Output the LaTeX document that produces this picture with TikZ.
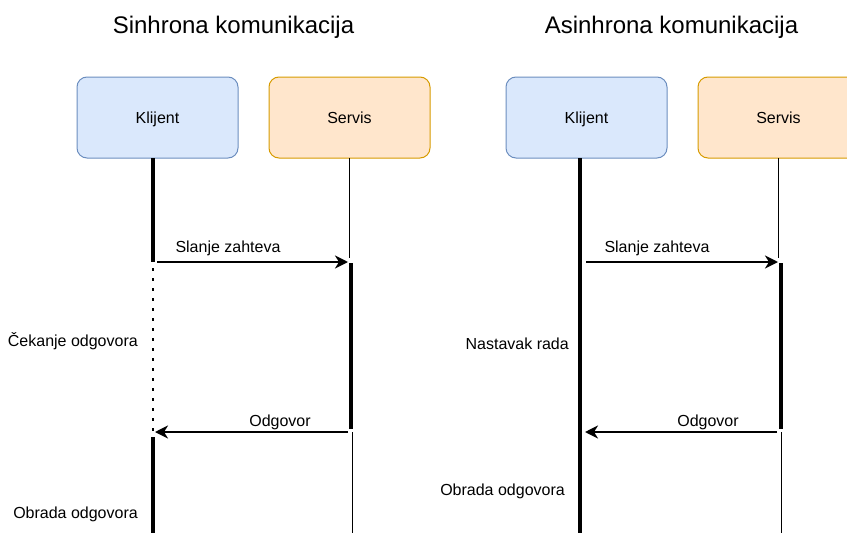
\documentclass[tikz,border=0pt]{standalone}
\usepackage{fontspec}
\setmainfont{Liberation Sans}
\usetikzlibrary{arrows.meta}
\definecolor{cfill}{HTML}{DAE8FC}
\definecolor{cdraw}{HTML}{6C8EBF}
\definecolor{sfill}{HTML}{FFE6CC}
\definecolor{sdraw}{HTML}{D79B00}
\begin{document}
\begin{tikzpicture}[x=1pt,y=-1pt,
  box/.style={rounded corners=10pt, line width=1pt, minimum width=161pt, minimum height=81pt, font=\fontsize{16}{19}\selectfont, inner sep=0pt, text height=11.5pt, text depth=0pt},
  cbox/.style={box, fill=cfill, draw=cdraw},
  sbox/.style={box, fill=sfill, draw=sdraw},
  life/.style={line width=1pt},
  act/.style={line width=4pt},
  waitline/.style={line width=2.5pt, dash pattern=on 2.5pt off 7.5pt},
  msg/.style={line width=2.2pt, -{Stealth[length=13pt,width=13pt,inset=4pt]}},
  lbl/.style={font=\fontsize{16}{19}\selectfont, inner sep=0pt},
  ttl/.style={font=\fontsize{24}{29}\selectfont, inner sep=0pt, anchor=base}]
\useasboundingbox (0,0) rectangle (847,533);
\clip (0,0) rectangle (847,533);

% titles
\node[ttl] (t1) at (233.5,33) {Sinhrona komunikacija};
\node[ttl] (t2) at (671.5,33) {Asinhrona komunikacija};

% boxes
\node[cbox] (k1) at (157.5,117.5) {Klijent};
\node[sbox] (s1) at (349.5,117.5) {Servis};
\node[cbox] (k2) at (586.5,117.5) {Klijent};
\node[sbox] (s2) at (778.5,117.5) {Servis};

% ---- left (synchronous) ----
\coordinate (k1a) at (153,158);
\coordinate (k1b) at (153,262);
\coordinate (k1w1) at (153,268);
\coordinate (k1w2) at (153,432);
\coordinate (k1c) at (153,437);
\coordinate (k1d) at (153,533);
\draw[act] (k1a) -- (k1b);
\draw[waitline] (k1w1) -- (k1w2);
\draw[act] (k1c) -- (k1d);

\coordinate (s1a) at (349,158);
\coordinate (s1b) at (349,258);
\coordinate (s1c) at (351,263);
\coordinate (s1d) at (351,429);
\coordinate (s1e) at (352,432);
\coordinate (s1f) at (352,533);
\draw[life] (s1a) -- (s1b);
\draw[act] (s1c) -- (s1d);
\draw[life] (s1e) -- (s1f);

\coordinate (r1from) at (157,262);
\coordinate (r1to) at (348,262);
\coordinate (a1from) at (348,432);
\coordinate (a1to) at (155,432);
\draw[msg] (r1from) -- (r1to);
\draw[msg] (a1from) -- (a1to);
\node[lbl, anchor=base] (lr1) at (228,252) {Slanje zahteva};
\node[lbl, anchor=base] (la1) at (280,426) {Odgovor};
\node[lbl, anchor=base east] (lw1) at (138,346) {Čekanje odgovora};
\node[lbl, anchor=base east] (lp1) at (138,518) {Obrada odgovora};

% ---- right (asynchronous) ----
\coordinate (k2a) at (580,158);
\coordinate (k2d) at (580,533);
\draw[act] (k2a) -- (k2d);

\coordinate (s2a) at (778,158);
\coordinate (s2b) at (778,258);
\coordinate (s2c) at (781,263);
\coordinate (s2d) at (781,429);
\coordinate (s2e) at (781,432);
\coordinate (s2f) at (781,533);
\draw[life] (s2a) -- (s2b);
\draw[act] (s2c) -- (s2d);
\draw[life] (s2e) -- (s2f);

\coordinate (r2from) at (586,262);
\coordinate (r2to) at (778,262);
\coordinate (a2from) at (777,432);
\coordinate (a2to) at (585,432);
\draw[msg] (r2from) -- (r2to);
\draw[msg] (a2from) -- (a2to);
\node[lbl, anchor=base] (lr2) at (657,252) {Slanje zahteva};
\node[lbl, anchor=base] (la2) at (708,426) {Odgovor};
\node[lbl, anchor=base east] (lw2) at (569,349) {Nastavak rada};
\node[lbl, anchor=base east] (lp2) at (565,495) {Obrada odgovora};
\end{tikzpicture}
\end{document}
